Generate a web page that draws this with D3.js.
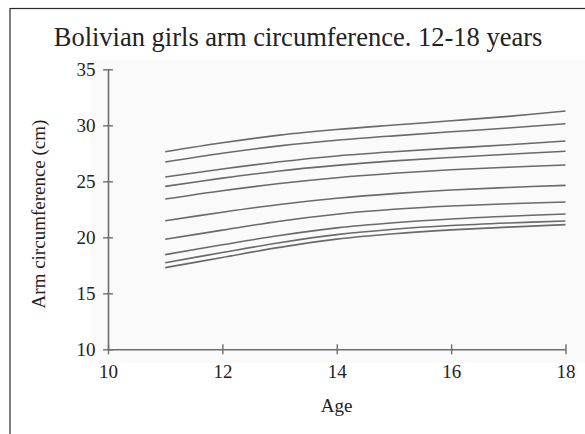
<!DOCTYPE html>
<html>
<head>
<meta charset="utf-8">
<script src="https://cdn.jsdelivr.net/npm/d3@7"></script>
<style>
  html, body { margin: 0; padding: 0; background: #fff; }
  svg { display: block; }
  text { font-family: "Liberation Serif", "Times New Roman", serif; fill: #222; }
</style>
</head>
<body>
<div id="chart"></div>
<script>
// Ages at which each percentile curve is tabulated
const ages = [11, 12, 13, 14, 15, 16, 17, 18];

// Arm circumference (cm) curves, highest to lowest
const curve1  = [27.64, 28.44, 29.12, 29.62, 30.02, 30.40, 30.80, 31.28];
const curve2  = [26.72, 27.50, 28.16, 28.66, 29.06, 29.42, 29.76, 30.14];
const curve3  = [25.38, 26.10, 26.74, 27.26, 27.64, 27.96, 28.26, 28.60];
const curve4  = [24.55, 25.28, 25.92, 26.42, 26.82, 27.13, 27.41, 27.68];
const curve5  = [23.42, 24.16, 24.80, 25.32, 25.72, 26.03, 26.26, 26.46];
const curve6  = [21.48, 22.24, 22.93, 23.48, 23.90, 24.22, 24.45, 24.64];
const curve7  = [19.82, 20.64, 21.44, 22.06, 22.50, 22.79, 22.99, 23.15];
const curve8  = [18.45, 19.33, 20.16, 20.84, 21.30, 21.64, 21.88, 22.08];
const curve9  = [17.73, 18.64, 19.52, 20.24, 20.72, 21.05, 21.28, 21.46];
const curve10 = [17.29, 18.20, 19.10, 19.84, 20.32, 20.66, 20.91, 21.13];

const curves = [curve1, curve2, curve3, curve4, curve5, curve6, curve7, curve8, curve9, curve10];

const xTicks = [10, 12, 14, 16, 18];
const yTicks = [10, 15, 20, 25, 30, 35];

const titleText = "Bolivian girls arm circumference. 12-18 years";
const xLabel = "Age";
const yLabel = "Arm circumference (cm)";

const W = 585, H = 434;
const svg = d3.select("#chart").append("svg")
  .attr("width", W).attr("height", H);

// Frame around the figure
svg.append("rect")
  .attr("x", 10).attr("y", 8.5)
  .attr("width", 620).attr("height", 500)
  .attr("fill", "#fff")
  .attr("stroke", "#2a2a2a").attr("stroke-width", 1.2);

// Faint panel behind the plot
svg.append("rect")
  .attr("x", 90).attr("y", 60)
  .attr("width", 495).attr("height", 303)
  .attr("fill", "#fafafa");

const x = d3.scaleLinear().domain([10, 18]).range([108, 565.5]);
const y = d3.scaleLinear().domain([10, 35]).range([349.3, 69.3]);

// Title
svg.append("text")
  .attr("x", 298).attr("y", 46)
  .attr("text-anchor", "middle")
  .style("font-size", "26.5px")
  .text(titleText);

// Y axis
const yAxis = svg.append("g")
  .attr("transform", `translate(${x(10)},0)`)
  .call(d3.axisLeft(y).tickValues(yTicks).tickSize(5).tickSizeOuter(0).tickPadding(7.5));
yAxis.selectAll(".tick line").attr("x1", 5).attr("x2", -5);

// X axis
const xAxis = svg.append("g")
  .attr("transform", `translate(0,${y(10)})`)
  .call(d3.axisBottom(x).tickValues(xTicks).tickSize(5).tickSizeOuter(0).tickPadding(10));
xAxis.selectAll(".tick line").attr("y1", -5).attr("y2", 5);

[xAxis, yAxis].forEach(g => {
  g.select(".domain").attr("stroke", "#6e6e6e").attr("stroke-width", 1.6);
  g.selectAll(".tick line").attr("stroke", "#6e6e6e").attr("stroke-width", 1.4);
  g.selectAll(".tick text")
    .attr("fill", "#222")
    .style("font-family", "'Liberation Serif', 'Times New Roman', serif")
    .style("font-size", "19px");
});

// Axis titles
svg.append("text")
  .attr("x", 336.5).attr("y", 412)
  .attr("text-anchor", "middle")
  .style("font-size", "19px")
  .text(xLabel);

svg.append("text")
  .attr("transform", "translate(45,214) rotate(-90)")
  .attr("text-anchor", "middle")
  .style("font-size", "19px")
  .text(yLabel);

// Percentile curves
const line = d3.line()
  .x((d, i) => x(ages[i]))
  .y(d => y(d))
  .curve(d3.curveCatmullRom.alpha(0.5));

svg.append("g").selectAll("path")
  .data(curves)
  .join("path")
  .attr("d", line)
  .attr("fill", "none")
  .attr("stroke", "#6a6a6a")
  .attr("stroke-width", 1.6);
</script>
</body>
</html>
